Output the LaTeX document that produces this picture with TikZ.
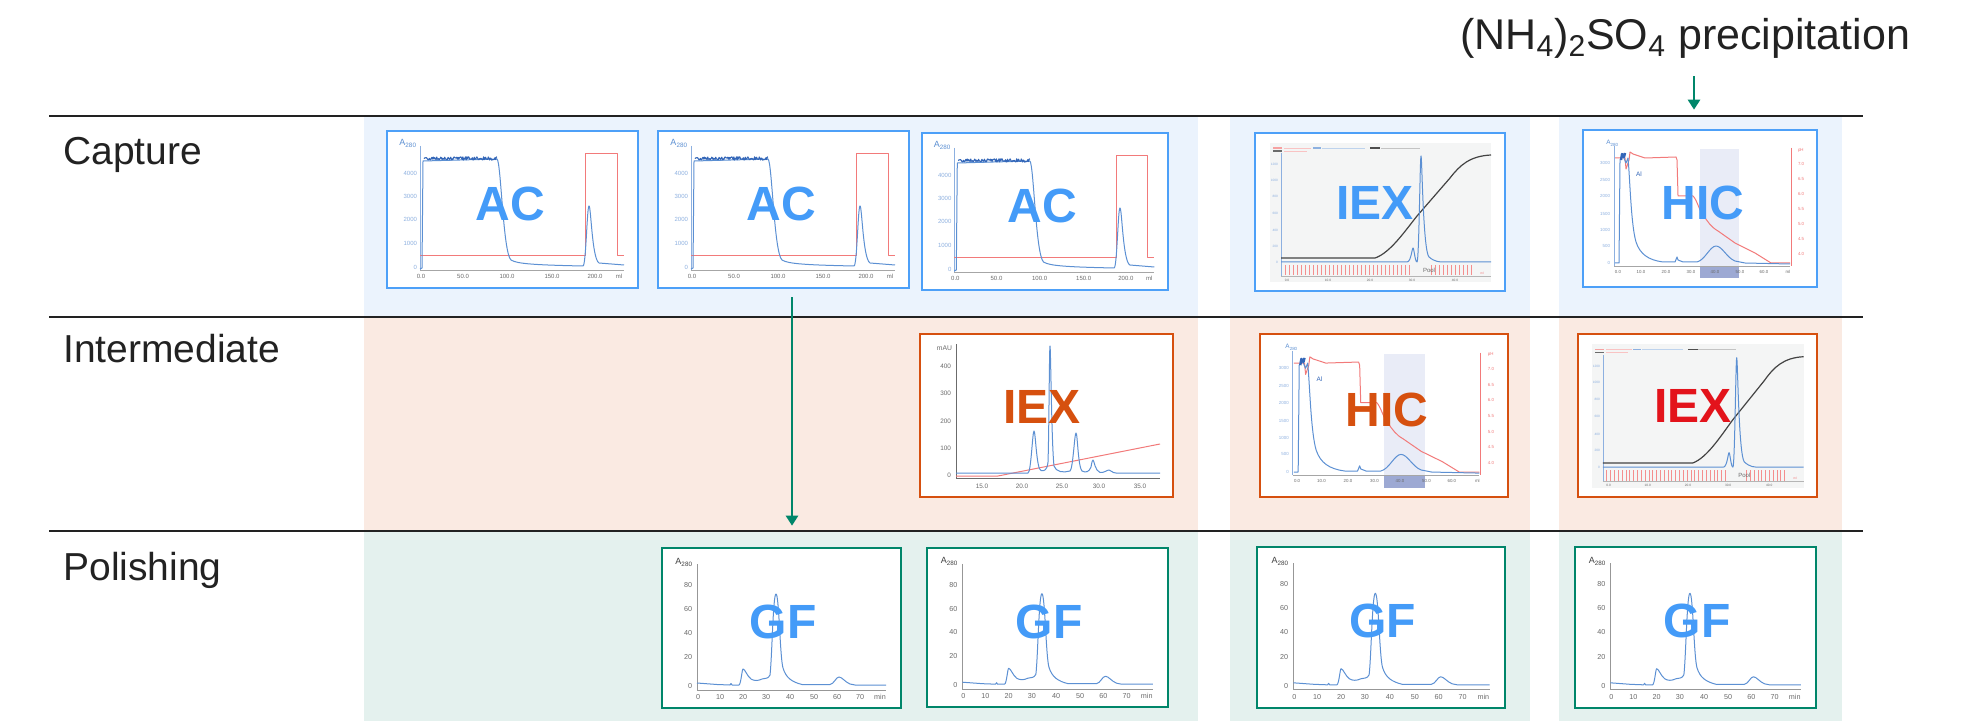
\documentclass[tikz,border=0pt]{standalone}
\usepackage{fontspec}
\setmainfont{Liberation Sans}
\usetikzlibrary{arrows.meta,positioning,fit}
\definecolor{FondoAzul}{HTML}{EBF3FD}
\definecolor{FondoNaranja}{HTML}{FAEAE2}
\definecolor{FondoVerde}{HTML}{E4F1EE}
\definecolor{AzulMarco}{HTML}{4DA0F8}
\definecolor{AzulEtiqueta}{HTML}{449BF8}
\definecolor{Naranja}{HTML}{D6500F}
\definecolor{Rojo}{HTML}{E3131B}
\definecolor{Verde}{HTML}{00866A}
\definecolor{CurvaAzul}{HTML}{5C90D3}
\definecolor{CurvaOscura}{HTML}{3366B8}
\definecolor{CurvaRoja}{HTML}{F27A7A}
\definecolor{EjeAzul}{HTML}{8DB0E0}
\definecolor{GrisTexto}{HTML}{6B6B6B}
\definecolor{GrisPanel}{HTML}{F4F5F5}
\definecolor{Sombra}{HTML}{E9ECF7}
\definecolor{SombraOscura}{HTML}{9DA9D3}
\definecolor{Tinta}{HTML}{222222}

\tikzset{
  marco/.style={draw=#1,line width=1.3pt,inner sep=0pt},
  sigla/.style={font=\fontsize{24}{24}\selectfont\bfseries,inner sep=0pt},
  numy/.style={anchor=east,inner sep=0.3pt,font=\fontsize{3}{3.5}\selectfont},
  numx/.style={inner sep=0.3pt,font=\fontsize{3}{3.5}\selectfont},
  curva/.style={line width=0.5pt,line join=round},
  % afinidad
  acchart/.pic={
    \fill[white] (0,0) rectangle (251,157);
    \draw[EjeAzul,line width=0.4pt] (33,15) -- (33,139);
    \draw[GrisTexto!60,line width=0.4pt] (33,139) -- (237,139);
    \node[numy,text=CurvaAzul,font=\fontsize{4.5}{5}\selectfont] (-a) at (31,12) {A\textsubscript{280}};
    \foreach \v/\y in {4000/42,3000/65,2000/88,1000/112,0/136}
      \node[numy,text=EjeAzul] (-y\v) at (31,\y) {\v};
    \foreach \v/\x in {0.0/34,50.0/76,100.0/120,150.0/165,200.0/208}
      \node[numx,text=GrisTexto] (-x\x) at (\x,145) {\v};
    \node[numx,text=GrisTexto] (-ml) at (232,145) {ml};
    \draw[curva,CurvaRoja] (33,125) -- (198,125) -- (198,23) -- (230,23) -- (230,125) -- (237,125);
    \draw[curva,CurvaAzul] (33,138) -- (35,137) -- (36,30) -- (110,28)
      .. controls (114,30) and (116,122) .. (124,129)
      .. controls (130,133) and (150,134) .. (196,135)
      .. controls (199,135) and (200,75) .. (202,75)
      .. controls (204,75) and (205,128) .. (212,132)
      -- (237,134);
    \pgfmathsetseed{11}
    \draw[curva,CurvaOscura,line width=0.55pt] plot[domain=37:110,samples=110] (\x,{27.5+1.7*rand});
    \node[sigla,text=AzulEtiqueta] (-lbl) at (123,73) {AC};
    \node[marco=AzulMarco,fit={(0,0) (251,157)}] (-box) {};
  },
  % intercambio ionico (capture / intermediate)
  pics/iexchart/.style 2 args={code={
    \fill[white] (0,0) rectangle (250,158);
    \fill[GrisPanel] (15,10) rectangle (236,149);
    \draw[CurvaRoja!70,line width=0.6pt] (18,15) -- (27,15);
    \draw[GrisTexto,line width=0.6pt] (18,18) -- (27,18);
    \draw[CurvaRoja!45,line width=0.3pt] (29,15) -- (56,15) (29,18) -- (52,18);
    \draw[CurvaAzul!70,line width=0.6pt] (58,15) -- (66,15);
    \draw[CurvaAzul!40,line width=0.3pt] (67,15) -- (110,15);
    \draw[Tinta!80,line width=0.6pt] (115,15) -- (125,15);
    \draw[GrisTexto!40,line width=0.3pt] (126,15) -- (165,15);
    \draw[EjeAzul,line width=0.3pt] (26,20) -- (26,143);
    \draw[GrisTexto!50,line width=0.3pt] (26,143) -- (236,143);
    \foreach \v/\y in {1200/31,1000/47,800/63,600/80,400/97,200/113,0/129}
      \node[numy,text=EjeAzul,font=\fontsize{1.6}{2}\selectfont] (-y\v) at (24,\y) {\v};
    \foreach \v/\x in {0.0/32,10.0/73,20.0/115,30.0/157,40.0/200}
      \node[numx,text=GrisTexto,font=\fontsize{1.6}{2}\selectfont] (-x\x) at (\x,147) {\v};
    \node[numx,text=CurvaRoja,font=\fontsize{1.6}{2}\selectfont] (-ml) at (227,140) {ml};
    \foreach \x in {30,34,...,154,176,180,...,216}
      \draw[CurvaRoja!85,line width=0.25pt] (\x,132) -- (\x,142);
    \node[text=GrisTexto,inner sep=0pt,font=\fontsize{3}{3}\selectfont] (-pool) at (174,137) {Pool};
    \draw[curva,Tinta!85,line width=0.6pt] (26,125) -- (120,125)
      .. controls (135,120) and (150,98) .. (162,83)
      -- (195,45) .. controls (205,32) and (215,23) .. (236,22);
    \draw[curva,CurvaAzul] (26,129) -- (152,129)
      .. controls (156,129) and (157,115) .. (158,115)
      .. controls (159,115) and (160,129) .. (162,129)
      .. controls (164,129) and (165,23) .. (166,23)
      .. controls (167,23) and (168,118) .. (174,124)
      .. controls (180,129) and (184,129) .. (190,129) -- (236,129);
    \node[sigla,text=#2] (-lbl) at (120,70) {IEX};
    \node[marco=#1,fit={(0,0) (250,158)}] (-box) {};
  }},
  % interaccion hidrofobica
  pics/hicchart/.style 2 args={code={
    \fill[white] (0,0) rectangle (234,157);
    \fill[Sombra] (117,19) rectangle (156,136);
    \fill[SombraOscura] (117,136) rectangle (156,148);
    \draw[EjeAzul,line width=0.4pt] (31,16) -- (31,136);
    \draw[GrisTexto!60,line width=0.4pt] (31,136) -- (207,136);
    \draw[CurvaRoja,line width=0.4pt] (208,18) -- (208,136);
    \node[numy,text=CurvaAzul,font=\fontsize{3.2}{3.5}\selectfont] (-a) at (37,13) {A\textsubscript{280}};
    \foreach \v/\y in {3000/33,2500/50,2000/66,1500/84,1000/100,500/116,0/133}
      \node[numy,text=EjeAzul,font=\fontsize{2.2}{2.5}\selectfont] (-y\v) at (28,\y) {\v};
    \foreach \v/\y in {pH/20,7.0/34,6.5/49,6.0/64,5.5/79,5.0/94,4.5/109,4.0/124}
      \node[numx,anchor=west,text=CurvaRoja,font=\fontsize{2.2}{2.5}\selectfont] (-p\y) at (214,\y) {\v};
    \foreach \v/\x in {0.0/35,10.0/58,20.0/83,30.0/108,40.0/132,50.0/157,60.0/181}
      \node[numx,text=GrisTexto,font=\fontsize{2.2}{2.5}\selectfont] (-x\x) at (\x,142) {\v};
    \node[numx,text=GrisTexto,font=\fontsize{2.2}{2.5}\selectfont] (-ml) at (205,142) {ml};
    \draw[curva,CurvaRoja] (32,28) -- (42,28) -- (43,39) -- (46,30) -- (47,22) -- (50,24)
      -- (62,28) -- (93,27) -- (94,30) -- (95,66) -- (110,66)
      .. controls (114,70) and (116,80) .. (120,85)
      .. controls (125,92) and (128,97) .. (135,101)
      -- (152,113) -- (172,123) -- (188,133) -- (207,133);
    \draw[curva,CurvaAzul] (32,133) -- (36,133) -- (37,30) -- (40,26) -- (43,33) -- (45,28)
      .. controls (47,50) and (48,95) .. (53,112)
      .. controls (57,124) and (65,130) .. (80,132)
      -- (92,132) -- (94,127) -- (95,130) -- (100,132) -- (114,132)
      .. controls (122,130) and (127,116) .. (133,116)
      .. controls (139,116) and (144,128) .. (152,131)
      -- (162,133) -- (207,134);
    \draw[CurvaOscura,line width=1.2pt,line join=round] (38,30) -- (39,24) -- (41,27) -- (42,23);
    \node[text=CurvaOscura,inner sep=0pt,font=\fontsize{3.2}{3.5}\selectfont] (-al) at (56,44) {Al};
    \node[sigla,text=#2] (-lbl) at (120,73) {HIC};
    \node[marco=#1,fit={(0,0) (234,157)}] (-box) {};
  }},
  % intercambio ionico (intermediate, mAU)
  iexochart/.pic={
    \fill[white] (0,0) rectangle (253,163);
    \draw[GrisTexto,line width=0.4pt] (36,10) -- (36,144) -- (240,144);
    \node[numy,text=GrisTexto,font=\fontsize{3.4}{4}\selectfont] (-mau) at (33,14) {mAU};
    \foreach \v/\y in {400/32,300/59,200/87,100/114,0/141}
      \node[numy,text=GrisTexto,font=\fontsize{3.2}{4}\selectfont] (-y\v) at (32,\y) {\v};
    \foreach \v/\x in {15.0/62,20.0/102,25.0/142,30.0/179,35.0/220}
      \node[numx,text=GrisTexto,font=\fontsize{3.2}{4}\selectfont] (-x\x) at (\x,152) {\v};
    \draw[curva,CurvaRoja] (36,142) -- (78,142) -- (240,110);
    \draw[curva,CurvaAzul] (36,139) -- (108,139)
      .. controls (111,139) and (112.5,97) .. (114,97)
      .. controls (115.5,97) and (116.5,136) .. (121,136.5)
      .. controls (124,137) and (127,137) .. (128,128)
      .. controls (129,100) and (129.3,12) .. (130,12)
      .. controls (130.7,12) and (131.5,110) .. (134,132)
      .. controls (136,138) and (143,139) .. (150,137)
      .. controls (153,135) and (154.5,99) .. (156,99)
      .. controls (157.5,99) and (158,133) .. (162,137)
      .. controls (166,139) and (169,138) .. (171,133)
      .. controls (172,127) and (172.5,126) .. (173,126)
      .. controls (174,126) and (175,137) .. (180,138.5)
      .. controls (184,139) and (187,136) .. (189,136)
      .. controls (191,136) and (192,139) .. (196,139)
      -- (240,139);
    \node[sigla,text=Naranja] (-lbl) at (122,73) {IEX};
    \node[marco=Naranja,fit={(0,0) (253,163)}] (-box) {};
  },
  % filtracion en gel
  gfchart/.pic={
    \fill[white] (0,0) rectangle (239,160);
    \draw[GrisTexto!70,line width=0.4pt] (35,16) -- (35,142) -- (224,142);
    \node[numy,text=GrisTexto!60!black,font=\fontsize{4.5}{5}\selectfont] (-a) at (32,14) {A\textsubscript{280}};
    \foreach \v/\y in {80/37,60/61,40/85,20/109,0/138}
      \node[numy,text=GrisTexto,font=\fontsize{3.6}{4}\selectfont] (-y\v) at (31,\y) {\v};
    \foreach \v/\x in {0/36,10/58,20/81,30/104,40/128,50/152,60/175,70/198}
      \node[numx,text=GrisTexto,font=\fontsize{3.6}{4}\selectfont] (-x\v) at (\x,149) {\v};
    \node[numx,text=GrisTexto,font=\fontsize{3.6}{4}\selectfont] (-min) at (218,149) {min};
    \draw[curva,CurvaAzul] (35,135) -- (55,136.5) -- (68,137) -- (69,135.5) -- (70,137) -- (77,137)
      .. controls (79,136) and (80,121) .. (81,121)
      .. controls (83,121) and (85,128) .. (89,131)
      .. controls (92,133) and (96,133) .. (100,131)
      .. controls (104,130) and (106,131) .. (108,127)
      .. controls (110,110) and (111,46) .. (114,46)
      .. controls (117,46) and (118,110) .. (121,120)
      .. controls (124,130) and (130,134) .. (140,136.5)
      -- (168,136.5)
      .. controls (172,136) and (174,129) .. (177,129)
      .. controls (180,129) and (183,134) .. (188,136)
      -- (193,137) -- (224,137);
    \node[sigla,text=AzulEtiqueta] (-lbl) at (121,74) {GF};
    \node[marco=Verde,fit={(0,0) (239,160)}] (-box) {};
  },
}

\begin{document}
\begin{tikzpicture}[
  x=0.5pt,y=-0.5pt,
  etapa/.style={anchor=base west,inner sep=0pt,font=\fontsize{19.5}{20}\selectfont,text=Tinta},
  flecha/.style={-{Triangle[length=5pt,width=6pt]},line width=1.3pt,Verde},
  division/.style={line width=1pt,Tinta}
]
  \useasboundingbox (0,0) rectangle (1962,721);
  % fondos de cada columna
  \foreach \xa/\xb in {364/1198,1230/1530,1559/1842}{
    \fill[FondoAzul] (\xa,117) rectangle (\xb,316);
    \fill[FondoNaranja] (\xa,318) rectangle (\xb,530);
    \fill[FondoVerde] (\xa,532) rectangle (\xb,721);
  }
  \draw[division] (49,116) -- (1863,116);
  \draw[division] (49,317) -- (1863,317);
  \draw[division] (49,531) -- (1863,531);

  \node[etapa] (captura) at (63,165) {Capture};
  \node[etapa] (intermedia) at (63,362) {Intermediate};
  \node[etapa] (pulido) at (63,580) {Polishing};
  \node[anchor=base,inner sep=0pt,font=\fontsize{21.5}{22}\selectfont,text=Tinta] (sal) at (1685,50)
    {(NH\textsubscript{4})\textsubscript{2}SO\textsubscript{4} precipitation};

  % capture
  \pic (ac1) at (387,131) {acchart};
  \pic (ac2) at (658,131) {acchart};
  \begin{scope}[shift={(922,133)},x=0.49pt]
    \pic (ac3) {acchart};
  \end{scope}
  \pic (iex1) at (1255,133) {iexchart={AzulMarco}{AzulEtiqueta}};
  \pic (hic1) at (1583,130) {hicchart={AzulMarco}{AzulEtiqueta}};

  % intermediate
  \pic (iexo) at (920,334) {iexochart};
  \begin{scope}[shift={(1260,334)},x=0.53pt,y=-0.519pt]
    \pic (hic2) {hicchart={Naranja}{Naranja}};
  \end{scope}
  \begin{scope}[shift={(1578,334)},x=0.478pt,y=-0.516pt]
    \pic (iex2) {iexchart={Naranja}{Rojo}};
  \end{scope}

  % polishing
  \pic (gf1) at (662,548) {gfchart};
  \begin{scope}[shift={(927,548)},x=0.504pt,y=-0.497pt]
    \pic (gf2) {gfchart};
  \end{scope}
  \begin{scope}[shift={(1257,547)},x=0.519pt,y=-0.503pt]
    \pic (gf3) {gfchart};
  \end{scope}
  \begin{scope}[shift={(1575,547)},x=0.504pt,y=-0.503pt]
    \pic (gf4) {gfchart};
  \end{scope}

  \coordinate (bajada) at ([xshift=4.25pt,yshift=-4pt]ac2-box.south);
  \draw[flecha,shorten >=10.5pt] (bajada) -- (bajada |- gf1-box.north);
  \coordinate (caida) at ([xshift=4.5pt,yshift=-8.5pt]sal.south);
  \draw[flecha,shorten >=9.5pt] (caida) -- (caida |- hic1-box.north);
\end{tikzpicture}
\end{document}
